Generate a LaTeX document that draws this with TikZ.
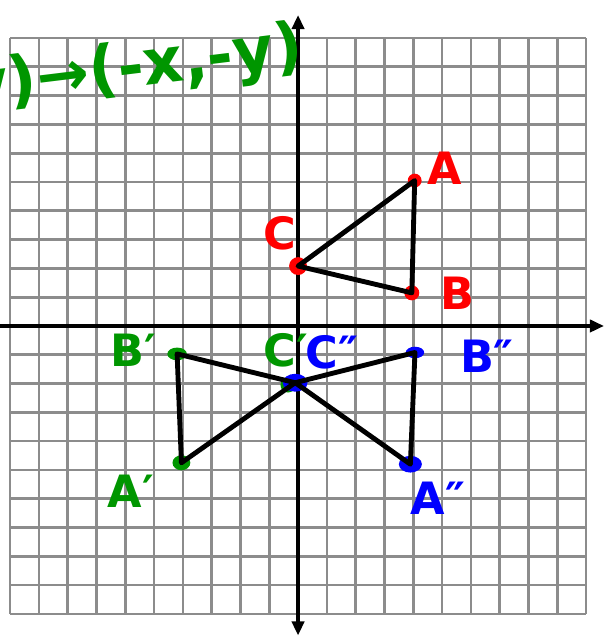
\documentclass[tikz,border=0pt]{standalone}
\usepackage{fontspec}
\setmainfont{DejaVu Sans}
\usetikzlibrary{arrows.meta}
\definecolor{penred}{RGB}{255,0,0}
\definecolor{pengreen}{RGB}{0,150,0}
\definecolor{penblue}{RGB}{0,0,255}

\begin{document}
\begin{tikzpicture}[
    x=0.5cm, y=0.5cm,
    gridline/.style={draw=black!45, line width=1.3pt, step=0.5cm},
    axis/.style={line width=2pt, -{Triangle[width=6pt, length=7pt]}},
    side/.style={line width=2.4pt, line join=round, line cap=round},
    lbl/.style={font=\fontsize{22}{22}\selectfont\bfseries, inner sep=0pt},
    redlbl/.style={lbl, text=penred},
    greenlbl/.style={lbl, text=pengreen},
    bluelbl/.style={lbl, text=penblue}
]
    \useasboundingbox (-10.35,-10.8) rectangle (10.625,11.32);
    \fill[white] (-10.35,-10.8) rectangle (10.625,11.32);

    % graph paper
    \draw[gridline] (-10,-10) grid (10,10);

    % axes
    \coordinate (xl) at (-10.35,0);
    \coordinate (xr) at (10.625,0);
    \coordinate (yb) at (0,-10.75);
    \coordinate (yt) at (0,10.8);
    \draw[axis] (xl) -- (xr);
    \draw[axis, {Triangle[width=6pt, length=7pt]}-{Triangle[width=6pt, length=7pt]}] (yb) -- (yt);

    % vertices
    \coordinate (A)   at (4.05,5.05);
    \coordinate (B)   at (3.95,1.15);
    \coordinate (C)   at (0,2.08);
    \coordinate (A1)  at (-4.05,-4.75);
    \coordinate (B1)  at (-4.2,-0.97);
    \coordinate (C1)  at (-0.1,-1.97);
    \coordinate (A2)  at (3.9,-4.8);
    \coordinate (B2)  at (4.06,-0.92);
    \coordinate (C2)  at (-0.1,-1.97);

    % dots
    \fill[penred] (A) circle[radius=0.24];
    \fill[penred] (B) circle[radius=0.26];
    \fill[penred] (C) circle[radius=0.31];
    \fill[pengreen] (A1) ellipse[x radius=0.31, y radius=0.26];
    \fill[pengreen] (B1) ellipse[x radius=0.34, y radius=0.22];
    \fill[pengreen] (-0.35,-2.05) circle[radius=0.26];
    \fill[penblue] (A2) ellipse[x radius=0.4, y radius=0.29];
    \fill[penblue] (B2) ellipse[x radius=0.32, y radius=0.2];
    \fill[penblue] (C2) ellipse[x radius=0.43, y radius=0.31];

    % triangles
    \draw[side] (A) -- (B) -- (C) -- cycle;
    \draw[side] (A1) -- (B1) -- (C1) -- cycle;
    \draw[side] (A2) -- (B2) -- (C2) -- cycle;

    % labels
    \node[redlbl] (lblA) at (5.1,5.49) {A};
    \node[redlbl] (lblB) at (5.52,1.15) {B};
    \node[redlbl] (lblC) at (-0.63,3.23) {C};
    \node[greenlbl] (lblA1) at (-5.8,-5.73) {A′};
    \node[greenlbl] (lblB1) at (-5.73,-0.83) {B′};
    \node[greenlbl] (lblC1) at (-0.42,-0.85) {C′};
    \node[bluelbl] (lblA2) at (4.86,-5.97) {A″};
    \node[bluelbl] (lblB2) at (6.56,-1.04) {B″};
    \node[bluelbl] (lblC2) at (1.18,-0.9) {C″};

    % rule
    \node[lbl, font=\fontsize{31}{31}\selectfont\bfseries, text=pengreen,
          anchor=east, rotate=7] (rule) at (0.17,9.6) {(x,y)→(-x,-y)};
\end{tikzpicture}
\end{document}
